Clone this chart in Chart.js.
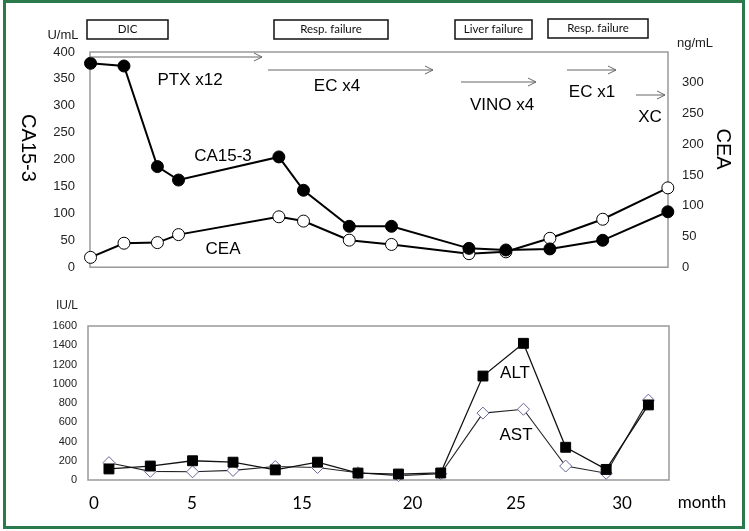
<!DOCTYPE html>
<html>
<head>
<meta charset="utf-8">
<script src="https://cdn.jsdelivr.net/npm/chart.js@4.4.1/dist/chart.umd.min.js"></script>
<style>
  body { margin: 0; background: #fff; }
  #wrap { position: relative; width: 749px; height: 531px; }
  #frame { position: absolute; left: 3px; top: 0px; width: 742px; height: 529px; border: 3px solid #2b7a4b; box-sizing: border-box; }
  #top { position: absolute; left: 0; top: 0; }
  #bottom { position: absolute; left: 0; top: 290px; }
</style>
</head>
<body>
<div id="wrap">
  <div id="frame"></div>
  <canvas id="top" width="749" height="290"></canvas>
  <canvas id="bottom" width="749" height="241"></canvas>
</div>
<script>
// tumour markers (upper panel)
var monthsTop = [-0.2, 1.7, 3.6, 4.8, 10.5, 11.9, 14.5, 16.9, 21.3, 23.4, 25.9, 28.9, 32.6];
var ca153 = [379, 374, 187, 162, 205, 143, 76, 76, 35, 32, 34, 50, 103];
var cea = [16, 39, 40, 53, 82, 75, 44, 37, 22, 25, 47, 78, 129];

// liver enzymes (lower panel)
var monthsBottom = [0.85, 3.2, 5.6, 7.9, 10.3, 12.7, 15.0, 17.3, 19.7, 22.1, 24.4, 26.8, 29.1, 31.5];
var alt = [115, 145, 200, 185, 105, 185, 72, 62, 73, 1080, 1420, 340, 110, 780];
var ast = [180, 90, 85, 100, 140, 130, 75, 45, 65, 695, 735, 145, 70, 830];

// x tick labels as printed on the figure
var tickAt = [0, 5.57, 11.82, 18.1, 23.98, 30];
var tickText = ['0', '5', '15', '20', '25', '30'];

var events = ['DIC', 'Resp. failure', 'Liver failure', 'Resp. failure'];
var treatments = ['PTX x12', 'EC x4', 'VINO x4', 'EC x1', 'XC'];

var sans = "'Liberation Sans', Arial, sans-serif";
var gill = "Lato, 'Open Sans', sans-serif";

function pts(xs, ys) {
  return xs.map(function(x, i) { return {x: x, y: ys[i]}; });
}

function arrow(ctx, x1, x2, y) {
  ctx.beginPath();
  ctx.moveTo(x1, y);
  ctx.lineTo(x2, y);
  ctx.moveTo(x2 - 8, y - 4);
  ctx.lineTo(x2, y);
  ctx.lineTo(x2 - 8, y + 4);
  ctx.stroke();
}

function vtext(ctx, txt, x, y) {
  ctx.save();
  ctx.translate(x, y);
  ctx.rotate(Math.PI / 2);
  ctx.fillText(txt, 0, 0);
  ctx.restore();
}

var topDecor = {
  id: 'topDecor',
  beforeDatasetsDraw: function(chart) {
    var ctx = chart.ctx, a = chart.chartArea;
    ctx.save();
    ctx.strokeStyle = '#999';
    ctx.lineWidth = 1.5;
    ctx.strokeRect(a.left, a.top, a.right - a.left, a.bottom - a.top);
    ctx.restore();
  },
  afterDraw: function(chart) {
    var ctx = chart.ctx;
    ctx.save();
    // event boxes
    var boxes = [[87, 20, 81, 19], [274, 20, 114, 19], [455, 20, 77, 19], [548, 19, 100, 19]];
    ctx.strokeStyle = '#111';
    ctx.lineWidth = 1.5;
    ctx.fillStyle = '#111';
    ctx.font = '11.5px ' + gill;
    ctx.textAlign = 'center';
    ctx.textBaseline = 'middle';
    boxes.forEach(function(b, i) {
      ctx.strokeRect(b[0], b[1], b[2], b[3]);
      ctx.fillText(events[i], b[0] + b[2] / 2, b[1] + b[3] / 2);
    });

    // treatment arrows
    ctx.strokeStyle = '#666';
    ctx.lineWidth = 1;
    arrow(ctx, 90, 262, 57);
    arrow(ctx, 268, 433, 70);
    arrow(ctx, 461, 536, 82);
    arrow(ctx, 567, 616, 70);
    arrow(ctx, 636, 665, 95);

    ctx.fillStyle = '#000';
    ctx.font = '17px ' + sans;
    var tpos = [[190, 80], [337, 86], [502, 105], [592, 92], [650, 117]];
    treatments.forEach(function(t, i) { ctx.fillText(t, tpos[i][0], tpos[i][1]); });

    ctx.fillText('CA15-3', 223, 156);
    ctx.fillText('CEA', 223, 249);

    ctx.font = '13px ' + sans;
    ctx.fillStyle = '#222';
    ctx.fillText('U/mL', 63, 35);
    ctx.fillText('ng/mL', 695, 43);

    ctx.fillStyle = '#000';
    ctx.font = '20px ' + sans;
    vtext(ctx, 'CA15-3', 28, 148);
    vtext(ctx, 'CEA', 723, 149);
    ctx.restore();
  }
};

var bottomDecor = {
  id: 'bottomDecor',
  beforeDatasetsDraw: function(chart) {
    var ctx = chart.ctx, a = chart.chartArea;
    ctx.save();
    ctx.strokeStyle = '#999';
    ctx.lineWidth = 1.5;
    ctx.strokeRect(a.left, a.top, a.right - a.left, a.bottom - a.top);
    ctx.restore();
  },
  afterDraw: function(chart) {
    var ctx = chart.ctx;
    ctx.save();
    ctx.textAlign = 'center';
    ctx.textBaseline = 'middle';
    ctx.fillStyle = '#222';
    ctx.font = '12px ' + sans;
    ctx.fillText('IU/L', 67, 16);
    ctx.fillStyle = '#000';
    ctx.font = '17px ' + sans;
    ctx.fillText('ALT', 515, 83);
    ctx.fillText('AST', 516, 145);
    ctx.font = '17px ' + gill;
    ctx.fillText('month', 702, 213);
    ctx.restore();
  }
};

new Chart(document.getElementById('top'), {
  type: 'line',
  data: {
    datasets: [{
      label: 'CA15-3',
      data: pts(monthsTop, ca153),
      yAxisID: 'y',
      borderColor: '#000',
      borderWidth: 2,
      pointStyle: 'circle',
      pointRadius: 6,
      pointBackgroundColor: '#000',
      pointBorderColor: '#000',
      pointBorderWidth: 1,
      clip: false
    }, {
      label: 'CEA',
      data: pts(monthsTop, cea),
      yAxisID: 'y1',
      borderColor: '#000',
      borderWidth: 2,
      pointStyle: 'circle',
      pointRadius: 6,
      pointBackgroundColor: '#fff',
      pointBorderColor: '#000',
      pointBorderWidth: 1,
      clip: false
    }]
  },
  options: {
    responsive: false,
    animation: false,
    events: [],
    layout: { padding: { top: 52, bottom: 13, left: 0, right: 0 } },
    plugins: { legend: { display: false }, tooltip: { enabled: false } },
    scales: {
      x: { type: 'linear', display: false, min: -0.23, max: 32.61 },
      y: {
        position: 'left', min: 0, max: 400,
        grid: { display: false, drawTicks: false }, border: { display: false },
        ticks: { stepSize: 50, padding: 15, color: '#222', font: { family: sans, size: 13 } },
        afterFit: function(s) { s.width = 90; }
      },
      y1: {
        position: 'right', min: 0, max: 350,
        grid: { display: false, drawTicks: false }, border: { display: false },
        ticks: {
          stepSize: 50, padding: 14, color: '#222', font: { family: sans, size: 13 },
          callback: function(v) { return v > 300 ? '' : String(v); }
        },
        afterFit: function(s) { s.width = 81; }
      }
    }
  },
  plugins: [topDecor]
});

new Chart(document.getElementById('bottom'), {
  type: 'line',
  data: {
    datasets: [{
      label: 'ALT',
      data: pts(monthsBottom, alt),
      borderColor: '#111',
      borderWidth: 1.3,
      pointStyle: 'rect',
      pointRadius: 7,
      pointBackgroundColor: '#000',
      pointBorderColor: '#000',
      pointBorderWidth: 1,
      clip: false
    }, {
      label: 'AST',
      data: pts(monthsBottom, ast),
      borderColor: '#222',
      borderWidth: 1.1,
      pointStyle: 'rectRot',
      pointRadius: 6,
      pointBackgroundColor: '#fff',
      pointBorderColor: '#66669a',
      pointBorderWidth: 1,
      clip: false
    }]
  },
  options: {
    responsive: false,
    animation: false,
    events: [],
    layout: { padding: { top: 36, bottom: 0, left: 0, right: 80 } },
    plugins: { legend: { display: false }, tooltip: { enabled: false } },
    scales: {
      x: {
        type: 'linear', min: -0.34, max: 32.67,
        grid: { display: false, drawTicks: false }, border: { display: false },
        afterBuildTicks: function(s) { s.ticks = tickAt.map(function(v) { return {value: v}; }); },
        ticks: {
          autoSkip: false, maxRotation: 0, padding: 13, color: '#000',
          font: { family: gill, size: 17 },
          callback: function(v, i) { return tickText[i]; }
        },
        afterFit: function(s) { s.height = 51; }
      },
      y: {
        position: 'left', min: 0, max: 1600,
        grid: { display: false, drawTicks: false }, border: { display: false },
        ticks: {
          stepSize: 200, padding: 11, color: '#222', font: { family: sans, size: 11 },
          callback: function(v) { return String(v); }
        },
        afterFit: function(s) { s.width = 88; }
      }
    }
  },
  plugins: [bottomDecor]
});
</script>
</body>
</html>
